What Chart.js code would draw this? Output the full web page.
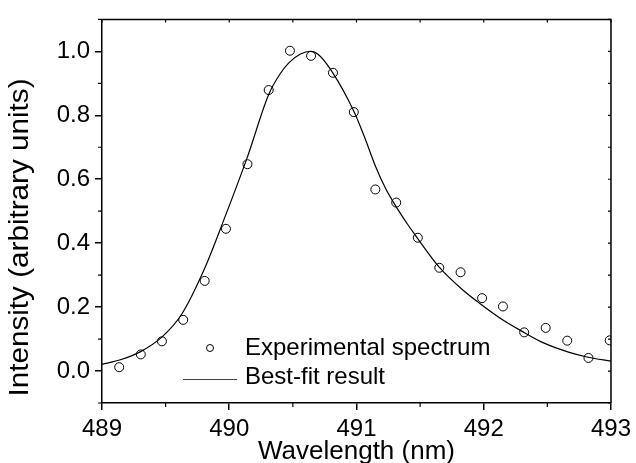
<!DOCTYPE html>
<html>
<head>
<meta charset="utf-8">
<script src="https://cdn.jsdelivr.net/npm/chart.js@4"></script>
<style>
  html, body { margin: 0; padding: 0; background: #fff; }
  #wrap { width: 636px; height: 463px; }
</style>
</head>
<body>
<div id="wrap"><canvas id="chart-spectrum" width="636" height="463"></canvas></div>
<script>
// ==========================================
// データ
// ==========================================

// 実験スペクトル（○）
const EXP_WAVELENGTH = [489.135, 489.305, 489.471, 489.638, 489.807, 489.974, 490.143, 490.310,
  490.477, 490.643, 490.815, 490.979, 491.148, 491.312, 491.482, 491.651,
  491.818, 491.987, 492.151, 492.318, 492.487, 492.656, 492.823, 492.990];
const EXP_INTENSITY = [0.012, 0.052, 0.093, 0.160, 0.282, 0.445, 0.647, 0.879,
  1.002, 0.986, 0.933, 0.810, 0.568, 0.527, 0.417, 0.323,
  0.309, 0.228, 0.202, 0.121, 0.135, 0.095, 0.041, 0.096];

// フィット曲線（実線）
const FIT_WAVELENGTH = [489.0, 489.15, 489.3, 489.47, 489.63, 489.8, 489.974, 490.143,
  490.31, 490.40, 490.47, 490.56, 490.64, 490.70, 490.81, 490.98, 491.06, 491.15,
  491.23, 491.31, 491.40, 491.48, 491.65, 491.82, 491.98, 492.16, 492.32, 492.47,
  492.66, 492.82, 493.0];
const FIT_INTENSITY = [0.021, 0.036, 0.060, 0.106, 0.180, 0.315, 0.490, 0.670,
  0.865, 0.930, 0.965, 0.992, 1.000, 0.990, 0.935, 0.812, 0.735, 0.640,
  0.570, 0.515, 0.460, 0.415, 0.325, 0.259, 0.208, 0.157, 0.120, 0.088,
  0.060, 0.043, 0.031];

// 目盛り
const X_TICKS = [489, 490, 491, 492, 493];
const X_MINOR = [489.5, 490.5, 491.5, 492.5];
const Y_TICKS = [0.0, 0.2, 0.4, 0.6, 0.8, 1.0];
const Y_MINOR = [-0.1, 0.1, 0.3, 0.5, 0.7, 0.9, 1.1];

const LEGEND_LABELS = ['Experimental spectrum', 'Best-fit result'];
const Y_TITLE = 'Intensity (arbitrary units)';

const FONT = "'Liberation Sans', Arial, sans-serif";

// ==========================================
// 枠線・副目盛り
// ==========================================

const framePlugin = {
  id: 'frame',
  afterDraw(chart) {
    const { ctx, chartArea: a, scales: { x, y } } = chart;
    ctx.save();
    ctx.strokeStyle = '#000';
    ctx.lineWidth = 1.5;
    ctx.beginPath();
    ctx.moveTo(a.left, a.top);
    ctx.lineTo(a.right, a.top);
    ctx.lineTo(a.right, a.bottom);
    ctx.stroke();

    ctx.lineWidth = 1.2;
    ctx.beginPath();
    // 下軸の副目盛り（外向き）
    X_MINOR.forEach(v => {
      const px = x.getPixelForValue(v);
      ctx.moveTo(px, a.bottom);
      ctx.lineTo(px, a.bottom + 4);
    });
    // 左軸の副目盛り（外向き）
    Y_MINOR.forEach(v => {
      const py = y.getPixelForValue(v);
      ctx.moveTo(a.left, py);
      ctx.lineTo(a.left - 4, py);
    });
    // 上軸・右軸（内向き）
    X_TICKS.concat(X_MINOR).forEach(v => {
      const px = x.getPixelForValue(v);
      ctx.moveTo(px, a.top);
      ctx.lineTo(px, a.top + 3);
    });
    Y_TICKS.concat(Y_MINOR).forEach(v => {
      const py = y.getPixelForValue(v);
      ctx.moveTo(a.right, py);
      ctx.lineTo(a.right - 3, py);
    });
    ctx.stroke();
    ctx.restore();
  }
};

// ==========================================
// 凡例（プロット内）と縦軸タイトル
// ==========================================

const labelsPlugin = {
  id: 'innerLabels',
  afterDraw(chart) {
    const { ctx } = chart;
    ctx.save();
    ctx.fillStyle = '#000';
    ctx.font = '24px ' + FONT;
    ctx.textBaseline = 'middle';
    ctx.fillText(LEGEND_LABELS[0], 245, 348);
    ctx.fillText(LEGEND_LABELS[1], 245, 377);

    ctx.strokeStyle = '#000';
    ctx.lineWidth = 1;
    ctx.beginPath();
    ctx.arc(210, 348, 3.5, 0, Math.PI * 2);
    ctx.stroke();

    ctx.strokeStyle = '#444';
    ctx.beginPath();
    ctx.moveTo(183, 379.5);
    ctx.lineTo(237, 379.5);
    ctx.stroke();

    // 縦軸タイトル（少し横長の字形に合わせる）
    ctx.translate(21, 237.5);
    ctx.rotate(-Math.PI / 2);
    ctx.font = '27px ' + FONT;
    const w = ctx.measureText(Y_TITLE).width;
    ctx.scale(318 / w, 1);
    ctx.textAlign = 'center';
    ctx.fillText(Y_TITLE, 0, 0);
    ctx.restore();
  }
};

// ==========================================
// グラフ描画
// ==========================================

const ctx = document.getElementById('chart-spectrum');

new Chart(ctx, {
  type: 'scatter',
  data: {
    datasets: [
      {
        label: LEGEND_LABELS[0],
        data: EXP_WAVELENGTH.map((w, i) => ({ x: w, y: EXP_INTENSITY[i] })),
        showLine: false,
        pointStyle: 'circle',
        pointRadius: 4.5,
        pointBorderWidth: 1,
        pointBorderColor: '#000',
        pointBackgroundColor: 'rgba(0,0,0,0)',
        order: 2
      },
      {
        label: LEGEND_LABELS[1],
        data: FIT_WAVELENGTH.map((w, i) => ({ x: w, y: FIT_INTENSITY[i] })),
        showLine: true,
        cubicInterpolationMode: 'monotone',
        borderColor: '#000',
        borderWidth: 1.2,
        pointRadius: 0,
        order: 1
      }
    ]
  },
  options: {
    responsive: false,
    animation: false,
    layout: { padding: { top: 12, right: 22, left: 0, bottom: 0 } },
    plugins: {
      legend: { display: false },
      tooltip: { enabled: false }
    },
    scales: {
      x: {
        type: 'linear',
        min: 489,
        max: 493,
        afterBuildTicks: s => { s.ticks = X_TICKS.map(v => ({ value: v })); },
        afterFit: s => { s.height = 60; },
        ticks: {
          color: '#000',
          padding: 5,
          font: { family: FONT, size: 24 },
          callback: v => String(v)
        },
        grid: { drawOnChartArea: false, drawTicks: true, tickLength: 7, color: '#000', lineWidth: 1.5 },
        border: { color: '#000', width: 1.5 },
        title: {
          display: true,
          text: 'Wavelength (nm)',
          color: '#000',
          padding: { top: 0, bottom: 0 },
          font: { family: FONT, size: 26, lineHeight: 0.85 }
        }
      },
      y: {
        min: -0.1,
        max: 1.1,
        afterBuildTicks: s => { s.ticks = Y_TICKS.map(v => ({ value: v })); },
        afterFit: s => { s.width = 102; },
        ticks: {
          color: '#000',
          padding: 5,
          font: { family: FONT, size: 24 },
          callback: v => v.toFixed(1)
        },
        grid: { drawOnChartArea: false, drawTicks: true, tickLength: 7, color: '#000', lineWidth: 1.5 },
        border: { color: '#000', width: 1.5 },
        title: { display: false }
      }
    }
  },
  plugins: [framePlugin, labelsPlugin]
});
</script>
</body>
</html>
